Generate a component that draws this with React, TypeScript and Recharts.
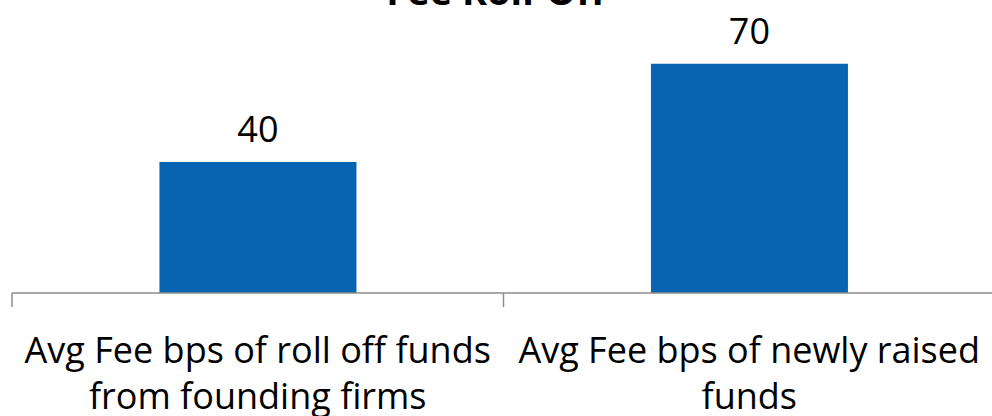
import React from 'react';
import { BarChart, Bar, XAxis, YAxis, LabelList } from 'recharts';

const categories = ['Avg Fee bps of roll off funds from founding firms', 'Avg Fee bps of newly raised funds'];
const values = [40, 70];
const tickLines = [
  ['Avg Fee bps of roll off funds', 'from founding firms'],
  ['Avg Fee bps of newly raised', 'funds'],
];
const title = 'Fee Roll-Off';

const data = categories.map((name, i) => ({ name, value: values[i] }));

const FONT = '"Open Sans", "Segoe UI", sans-serif';
const AXIS = '#8c8c8c';

const Tick = (props: any) => {
  const { x, y, index, width, visibleTicksCount } = props;
  const lines = tickLines[index] || [];
  const band = (width || 980) / (visibleTicksCount || categories.length);
  const axisY = y - 16;
  const edges = [x - band / 2];
  if (index === categories.length - 1) edges.push(x + band / 2);
  return (
    <g>
      {edges.map((ex, i) => (
        <line key={'t' + i} x1={ex} x2={ex} y1={axisY} y2={axisY + 14} stroke={AXIS} strokeWidth={1.5} />
      ))}
      {lines.map((l: string, i: number) => (
        <text key={i} x={x} y={y + 54 + i * 46} textAnchor="middle" fontSize={36} fill="#000" fontFamily={FONT}>
          {l}
        </text>
      ))}
    </g>
  );
};

export default function App() {
  return (
    <div style={{ position: 'absolute', left: 0, top: 0, width: 992, height: 416, overflow: 'hidden', background: '#fff' }}>
      <svg width={992} height={30} style={{ position: 'absolute', left: 0, top: 0 }}>
        <text x={496} y={5} textAnchor="middle" fontFamily={FONT} fontWeight={700} fontSize={38} fill="#000">{title}</text>
      </svg>
      <BarChart width={992} height={416} data={data} margin={{ top: 31, right: -3, left: 12, bottom: 0 }} barCategoryGap="30%">
        <XAxis dataKey="name" height={123} tickLine={false} tickSize={14} interval={0} tick={<Tick />} axisLine={{ stroke: AXIS, strokeWidth: 1.5 }} />
        <YAxis hide domain={[0, 80]} />
        <Bar dataKey="value" fill="#0664B2" isAnimationActive={false}>
          <LabelList dataKey="value" position="top" offset={20} fontSize={36} fill="#000" fontFamily={FONT} />
        </Bar>
      </BarChart>
    </div>
  );
}
